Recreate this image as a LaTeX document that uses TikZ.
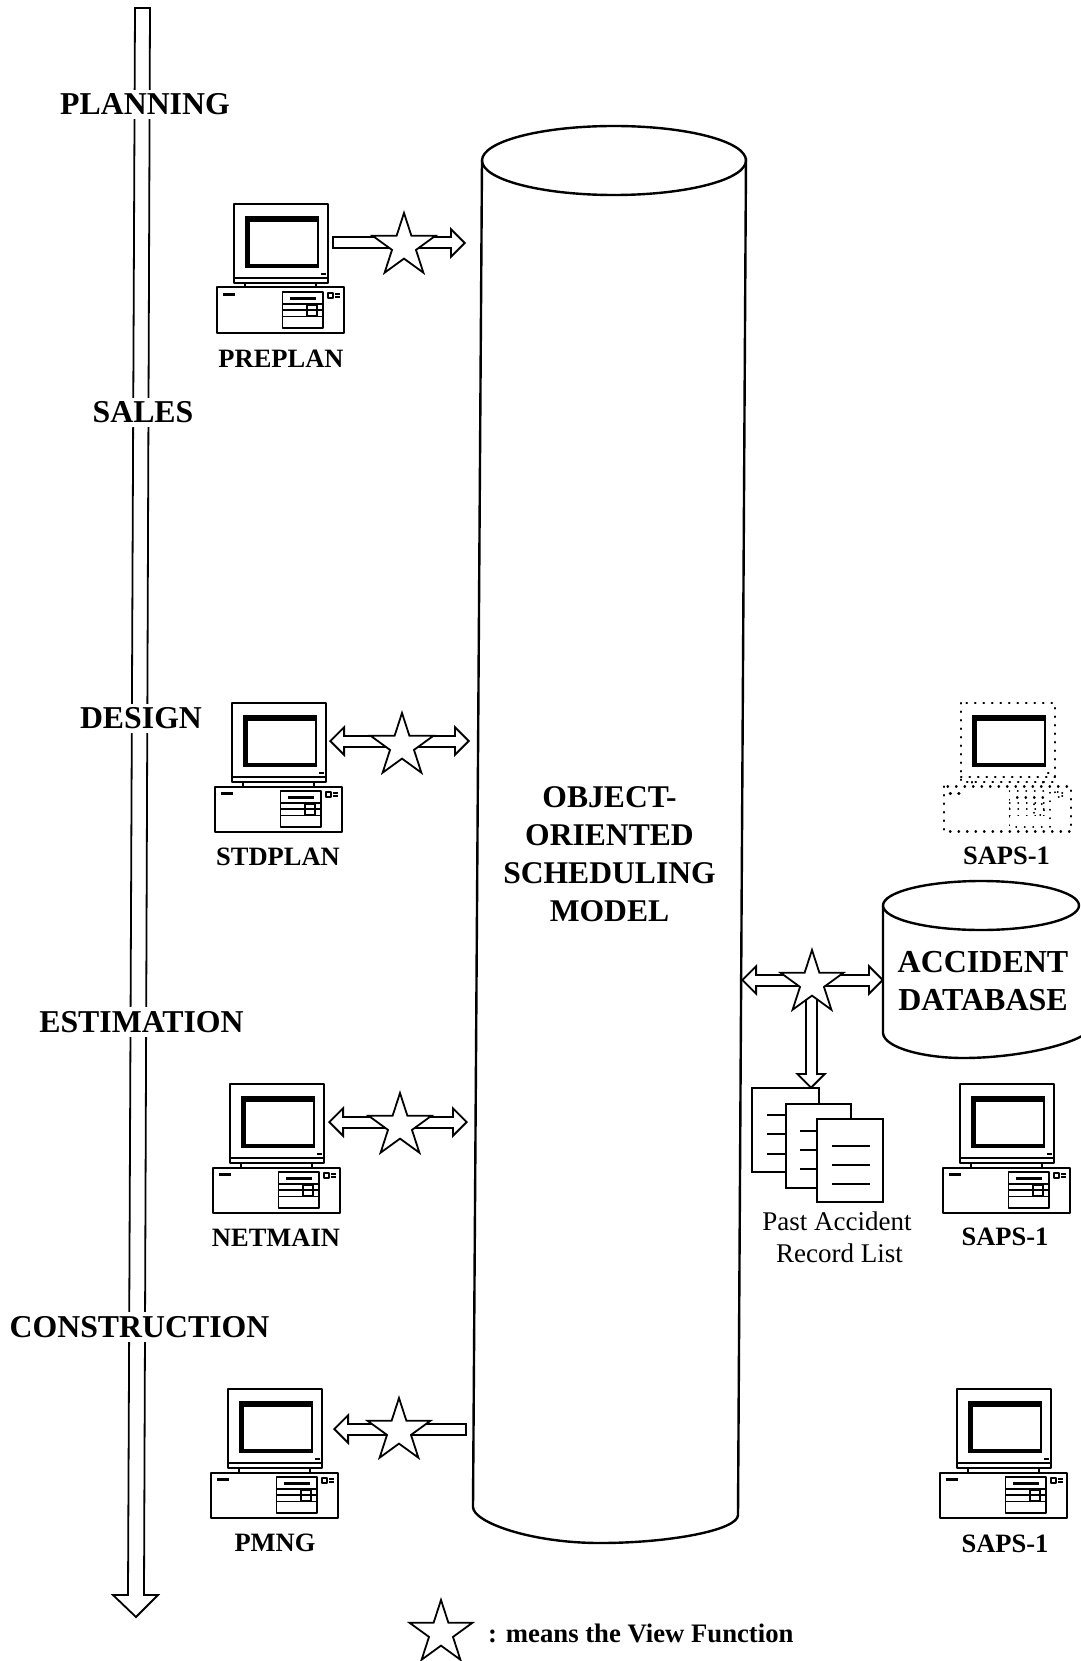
\documentclass[tikz,border=0pt]{standalone}
\usepackage{fontspec}
\setmainfont{Liberation Serif}
\usetikzlibrary{arrows.meta,shapes.geometric,calc}
\tikzset{
  x=1pt,y=-1pt,
  heavy/.style={draw=black,line width=2.4pt,line join=round},
  thin line/.style={draw=black,line width=1.8pt},
  phase/.style={font=\fontsize{31.8}{31.8}\selectfont\bfseries,fill=white,inner xsep=2pt,inner ysep=4pt},
  sysname/.style={font=\fontsize{26.5}{26.5}\selectfont\bfseries,inner sep=0pt},
  title/.style={font=\fontsize{31.6}{38}\selectfont\bfseries,align=center,inner sep=0pt},
  dbtitle/.style={font=\fontsize{32}{38}\selectfont\bfseries,align=center,inner sep=0pt},
  plain/.style={font=\fontsize{27}{32}\selectfont,align=center,inner sep=0pt},
  viewstar/.style={star,star points=5,star point ratio=2.618,draw=black,fill=white,line width=1.8pt,minimum size=66pt,inner sep=0pt},
  ho/.tip={Triangle[length=16pt,width=32pt,line width=0pt]},
  hi/.tip={Triangle[length=11.1pt,width=22.2pt,line width=0pt]},
  arrowout/.style={draw=black,line width=13pt},
  arrowin/.style={draw=white,line width=9pt},
}
\newcommand\blockone[2]{%
  \draw[arrowout,-{ho}] (#1) -- (#2);
  \draw[arrowin,-{hi},shorten <=2pt,shorten >=2.88pt] (#1) -- (#2);}
\newcommand\blocktwo[2]{%
  \draw[arrowout,{ho}-{ho}] (#1) -- (#2);
  \draw[arrowin,{hi}-{hi},shorten <=2.88pt,shorten >=2.88pt] (#1) -- (#2);}
\newcommand\computer[3]{%
  \begin{scope}[shift={(#1,#2)},cl/.style={draw=black,line width=2pt,line join=round,#3}]
    \draw[cl] (0,0) rectangle (94,79);
    \draw[cl] (0,74) -- (94,74);
    \fill[black] (10.5,12) rectangle (85,64);
    \fill[white] (16,18) rectangle (82.5,60);
    \draw[cl] (87,70) -- (92,70);
    \draw[cl] (11,79) -- (11,83.5);
    \draw[cl] (82,79) -- (82,83.5);
    \draw[cl] (-17,83.5) rectangle (110,128.5);
    \draw[cl,line width=3pt] (-11,90.5) -- (0.5,90.5);
    \draw[cl,line width=1.4pt] (48.5,88) rectangle (89,124);
    \draw[cl,line width=2.4pt] (56,94.5) -- (82,94.5);
    \draw[cl,line width=1.4pt] (48.5,100) -- (89,100);
    \draw[cl,line width=1.4pt] (48.5,106) -- (89,106);
    \draw[cl,line width=1.4pt] (48.5,112.5) -- (89,112.5);
    \draw[cl,line width=1.4pt] (73,101) rectangle (83,112);
    \draw[cl,line width=1.4pt] (94,89) rectangle (99,94);
    \draw[cl,line width=1.6pt] (101,90) -- (106,90);
    \draw[cl,line width=1.6pt] (101,93) -- (106,93);
  \end{scope}}
\begin{document}
\begin{tikzpicture}
\useasboundingbox (0,0) rectangle (1080,1661);
\fill[white] (0,0) rectangle (1080,1661);

% time arrow
\draw[thin line,line join=miter] (135,8) -- (150,8) -- (144,1595) -- (158,1595) -- (136,1617) -- (113,1595) -- (128,1595) -- cycle;
\node[phase] (planning) at (145,104.5) {PLANNING};
\node[phase] (sales) at (143,412.5) {SALES};
\node[phase] (design) at (141,718.5) {DESIGN};
\node[phase] (estimation) at (141.5,1022) {ESTIMATION};
\node[phase] (construction) at (139.5,1327) {CONSTRUCTION};

% large cylinder
\draw[heavy] (482,160) -- (473,1507) .. controls (473,1522) and (530,1543) .. (600,1543)
  .. controls (670,1543) and (738,1530) .. (738,1515) -- (746,158);
\draw[heavy] (614,160.5) ellipse [x radius=132,y radius=34.5];
\node[title] (model) at (609.5,854.5) {OBJECT-\\ORIENTED\\SCHEDULING\\MODEL};

% computers
\computer{234}{204}{}
\computer{232}{703}{}
\computer{230}{1084}{}
\computer{228}{1389}{}
\computer{961}{703}{line width=2.4pt,line cap=round,dash pattern=on 0.5pt off 8pt}
\computer{960}{1084}{}
\computer{957}{1389}{}
\node[sysname] (preplan) at (281,359) {PREPLAN};
\node[sysname] (stdplan) at (278,856.5) {STDPLAN};
\node[sysname] (netmain) at (276,1237.5) {NETMAIN};
\node[sysname] (pmng) at (275,1543) {PMNG};
\node[sysname] (saps1) at (1006.5,855.5) {SAPS-1};
\node[sysname] (saps2) at (1005,1237) {SAPS-1};
\node[sysname] (saps3) at (1005,1543.5) {SAPS-1};

% connector ends
\coordinate (a1) at (332,243);  \coordinate (b1) at (466,243);
\coordinate (a2) at (329,741);  \coordinate (b2) at (470,741);
\coordinate (a3) at (328,1122); \coordinate (b3) at (468,1122);
\coordinate (a4) at (467,1429); \coordinate (b4) at (333,1429);
\coordinate (a5) at (741,980);  \coordinate (b5) at (884,980);
\coordinate (a6) at (811,990);  \coordinate (b6) at (811,1089);

% accident database
\draw[heavy,fill=white] (883,906) -- (883,1033) .. controls (884,1048) and (925,1058) .. (963,1058)
  .. controls (1010,1058) and (1060,1048) .. (1082,1036);
\draw[heavy,fill=white] (981,905.5) ellipse [x radius=98,y radius=24.5];
\node[dbtitle] (accdb) at (983,981) {ACCIDENT\\DATABASE};

% documents
\draw[thin line,fill=white] (752,1088) rectangle (819,1172);
\draw[thin line,fill=white] (786,1104) rectangle (851,1188);
\draw[thin line,fill=white] (817,1119) rectangle (883,1202);
\foreach \y in {1115,1134,1154} \draw[thin line] (767,\y) -- (786,\y);
\foreach \y in {1131,1150,1169} \draw[thin line] (800,\y) -- (817,\y);
\foreach \y in {1146,1165,1184} \draw[thin line] (832,\y) -- (870,\y);
\node[plain] (pastlist) at (837,1237) {Past Accident\\\hspace*{5pt}Record List};

% block arrows
\blockone{a1}{b1}
\blocktwo{a2}{b2}
\blocktwo{a3}{b3}
\blockone{a4}{b4}
\blocktwo{a5}{b5}
\blockone{a6}{b6}

% stars
\node[viewstar] (s1) at (404,246) {};
\node[viewstar] (s2) at (402,746) {};
\node[viewstar] (s3) at (400,1126) {};
\node[viewstar] (s4) at (399,1431) {};
\node[viewstar] (s5) at (812,983) {};
\node[viewstar] (s6) at (441,1633) {};
\node[font=\fontsize{26.7}{26.7}\selectfont\bfseries,anchor=west,inner sep=0pt] (legend) at (488,1633) {: means the View Function};
\end{tikzpicture}
\end{document}
